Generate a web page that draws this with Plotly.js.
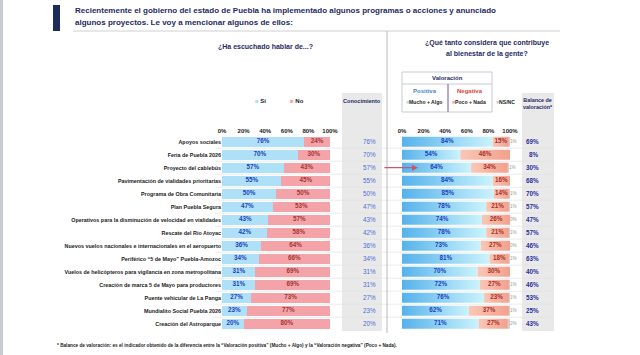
<!DOCTYPE html>
<html><head><meta charset="utf-8">
<script src="https://cdn.plot.ly/plotly-3.0.1.min.js"></script>
<style>html,body{margin:0;padding:0;background:#fff;}#chart{width:640px;height:355px;}</style>
</head><body><div id="chart"></div>
<script>
const programas = [
  'Apoyos sociales',
  'Feria de Puebla 2026',
  'Proyecto del cablebús',
  'Pavimentación de vialidades prioritarias',
  'Programa de Obra Comunitaria',
  'Plan Puebla Segura',
  'Operativos para la disminución de velocidad en vialidades',
  'Rescate del Río Atoyac',
  'Nuevos vuelos nacionales e internacionales en el aeropuerto',
  'Periférico “5 de Mayo” Puebla-Amozoc',
  'Vuelos de helicópteros para vigilancia en zona metropolitana',
  'Creación de marca 5 de Mayo para productores',
  'Puente vehicular de La Panga',
  'Mundialito Social Puebla 2026',
  'Creación del Astroparque'
];
const si       = [76,70,57,55,50,47,43,42,36,34,31,31,27,23,20];
const no       = [24,30,43,45,50,53,57,58,64,66,69,69,73,77,80];
const conocimiento = [76,70,57,55,50,47,43,42,36,34,31,31,27,23,20];
const positiva = [84,54,64,84,85,78,74,78,73,81,70,72,76,62,71];
const negativa = [15,46,34,16,14,21,26,21,27,18,30,27,23,37,27];
const nsnc     = [1,1,1,1,1,1,0,1,0,1,1,1,1,1,2];
const balance  = [69,8,30,68,70,57,47,57,46,63,40,46,53,25,43];
const tickVals = [0,20,40,60,80,100];
const tickLabels = ['0%','20%','40%','60%','80%','100%'];

const NARROW = 'Liberation Sans Narrow, Arial Narrow, Liberation Sans, Arial, sans-serif';
const SANS = 'Liberation Sans, Arial, sans-serif';
const NAVY = '#1f2b63';
const rows = programas.map((_, i) => i);
const H = 0.38;
const X = v => v / 640, Y = v => 1 - v / 355;
const yDom = [Y(330.2), Y(135.2)];
const yRange = [14.5, -0.5];

const traces = [];
traces.push({type:'bar', orientation:'h', x:si, y:rows, xaxis:'x', yaxis:'y',
  marker:{color:'#aee0f7'}, hoverinfo:'skip'});
traces.push({type:'bar', orientation:'h', x:no, y:rows, xaxis:'x', yaxis:'y',
  marker:{color:'#f4a4a8'}, hoverinfo:'skip'});
traces.push({type:'scatter', mode:'text', xaxis:'x', yaxis:'y', x:si.map(v=>v/2), y:rows,
  text:si.map(v=>'<b>'+v+'%</b>'), textfont:{family:SANS,size:6.3,color:'#1d3fc0'}, hoverinfo:'skip', cliponaxis:false});
traces.push({type:'scatter', mode:'text', xaxis:'x', yaxis:'y', x:si.map((s,i)=>s+no[i]/2), y:rows,
  text:no.map(v=>'<b>'+v+'%</b>'), textfont:{family:SANS,size:6.3,color:'#a43434'}, hoverinfo:'skip', cliponaxis:false});

rows.forEach(i => {
  const p = positiva[i], n = negativa[i], s = nsnc[i];
  traces.push({type:'scatter', xaxis:'x2', yaxis:'y2', mode:'none', fill:'toself',
    x:[0,p,p,0], y:[i-H,i-H,i+H,i+H],
    fillgradient:{type:'horizontal', colorscale:[[0,'#55b2ec'],[1,'#cbf3fc']]}, hoverinfo:'skip'});
  traces.push({type:'scatter', xaxis:'x2', yaxis:'y2', mode:'none', fill:'toself',
    x:[p,p+n,p+n,p], y:[i-H,i-H,i+H,i+H],
    fillgradient:{type:'horizontal', colorscale:[[0,'#f9c7b6'],[1,'#f3a08c']]}, hoverinfo:'skip'});
  if (s > 0) traces.push({type:'scatter', xaxis:'x2', yaxis:'y2', mode:'none', fill:'toself',
    x:[p+n,p+n+s,p+n+s,p+n], y:[i-H,i-H,i+H,i+H], fillcolor:'#cfcfcf', hoverinfo:'skip'});
});
traces.push({type:'scatter', mode:'text', xaxis:'x2', yaxis:'y2', x:positiva.map(v=>v/2), y:rows,
  text:positiva.map(v=>'<b>'+v+'%</b>'), textfont:{family:SANS,size:6.3,color:'#1d3fc0'}, hoverinfo:'skip', cliponaxis:false});
traces.push({type:'scatter', mode:'text', xaxis:'x2', yaxis:'y2', x:positiva.map((p,i)=>p+negativa[i]/2), y:rows,
  text:negativa.map(v=>'<b>'+v+'%</b>'), textfont:{family:SANS,size:6.3,color:'#a8302a'}, hoverinfo:'skip', cliponaxis:false});
traces.push({type:'scatter', mode:'text', xaxis:'x2', yaxis:'y2', x:positiva.map((p,i)=>p+negativa[i]+nsnc[i]), y:rows,
  text:nsnc.map(v=>v+'%'), textposition:'middle right', textfont:{family:SANS,size:4.6,color:'#999'}, hoverinfo:'skip', cliponaxis:false});

function txt(x, y, text, o) {
  o = o || {};
  return {xref:'paper', yref:'paper', x:X(x), y:Y(y), text:text, showarrow:false,
    xanchor:o.xanchor||'center', yanchor:'middle', align:o.align||'center',
    font:{family:o.family||SANS, size:o.size||6, color:o.color||'#222'}};
}
const ann = [];
ann.push(txt(73, 10.5, '<b>Recientemente el gobierno del estado de Puebla ha implementado algunos programas o acciones y anunciado</b>', {xanchor:'left', size:8, color:NAVY}));
ann.push(txt(73, 22.5, '<b>algunos proyectos. Le voy a mencionar algunos de ellos:</b>', {xanchor:'left', size:8, color:NAVY}));
ann.push(txt(265, 46, '<b>¿Ha escuchado hablar de...?</b>', {size:7, color:NAVY}));
ann.push(txt(487, 43, '<b>¿Qué tanto considera que contribuye</b>', {size:7, color:NAVY}));
ann.push(txt(487, 54, '<b>al bienestar de la gente?</b>', {size:7, color:NAVY}));
// left legend
ann.push(txt(253, 101, '<span style="color:#aee0f7">■</span> <b>Sí</b>', {xanchor:'left', size:6}));
ann.push(txt(288, 101, '<span style="color:#f4a4a8">■</span> <b>No</b>', {xanchor:'left', size:6}));
ann.push(txt(362, 101, '<b>Conocimiento</b>', {size:5.6, color:NAVY}));
// right legend box
ann.push(txt(447, 78, '<b>Valoración</b>', {size:6, color:NAVY}));
ann.push(txt(425, 91, '<b>Positiva</b>', {size:6, color:'#4a7fd6'}));
ann.push(txt(470, 91, '<b>Negativa</b>', {size:6, color:'#e2433c'}));
ann.push(txt(404, 101.5, '<span style="color:#aee0f7">■</span><b>Mucho + Algo</b>', {xanchor:'left', size:5.1}));
ann.push(txt(450, 101.5, '<span style="color:#f4a4a8">■</span><b>Poco + Nada</b>', {xanchor:'left', size:5.1}));
ann.push(txt(494, 101.5, '<span style="color:#cfcfcf">■</span><b>NS/NC</b>', {xanchor:'left', size:5.1}));
ann.push(txt(538, 103, '<b>Balance de<br>valoración*</b>', {size:5.4, color:NAVY}));
// column values
rows.forEach(i => {
  ann.push({xref:'paper', yref:'y', x:X(369), y:i, text:conocimiento[i]+'%', showarrow:false,
    font:{family:SANS, size:6.3, color:'#4a6fd6'}});
  ann.push({xref:'paper', yref:'y', x:X(541), y:i, text:'<b>'+balance[i]+'%</b>', showarrow:false,
    font:{family:SANS, size:6.3, color:'#2b2e9e'}});
});
// arrow
ann.push({xref:'paper', yref:'y', x:X(418), y:2, ax:-35, ay:0, text:'', showarrow:true,
  arrowhead:2, arrowsize:1, arrowwidth:1.2, arrowcolor:'#c9566c'});
ann.push(txt(55, 345, '<b>* Balance de valoración: es el indicador obtenido de la diferencia entre la “Valoración positiva” (Mucho + Algo) y la “Valoración negativa” (Poco + Nada).</b>', {xanchor:'left', size:4.7}));

const shapes = [];
shapes.push({type:'rect', xref:'paper', yref:'paper', x0:0, x1:X(3), y0:0, y1:1, fillcolor:'#c9cdd2', line:{width:0}, layer:'below'});
shapes.push({type:'rect', xref:'paper', yref:'paper', x0:X(53), x1:X(60), y0:Y(31), y1:Y(5), fillcolor:'#1c2a5e', line:{width:0}});
shapes.push({type:'line', xref:'paper', yref:'paper', x0:X(73), x1:X(560), y0:Y(31), y1:Y(31), line:{color:'#cfcfcf', width:1}});
shapes.push({type:'line', xref:'paper', yref:'paper', x0:X(387), x1:X(387), y0:Y(31), y1:Y(333), line:{color:'#b9b9b9', width:1}});
shapes.push({type:'rect', xref:'paper', yref:'paper', x0:X(342), x1:X(382), y0:Y(331), y1:Y(93), fillcolor:'#e9e9e9', line:{width:0}, layer:'below'});
shapes.push({type:'rect', xref:'paper', yref:'paper', x0:X(522), x1:X(554), y0:Y(331), y1:Y(93), fillcolor:'#e9e9e9', line:{width:0}, layer:'below'});
for (let i = 0; i < rows.length - 1; i++) {
  shapes.push({type:'line', xref:'paper', yref:'y', x0:X(215), x1:X(554), y0:i+0.5, y1:i+0.5, line:{color:'#e0e0e0', width:0.6}, layer:'below'});
}
// legend box
shapes.push({type:'rect', xref:'paper', yref:'paper', x0:X(402), x1:X(492), y0:Y(112), y1:Y(72), line:{color:'#c9c9d6', width:1}});
shapes.push({type:'line', xref:'paper', yref:'paper', x0:X(402), x1:X(492), y0:Y(84), y1:Y(84), line:{color:'#c9c9d6', width:1}});
shapes.push({type:'line', xref:'paper', yref:'paper', x0:X(448), x1:X(448), y0:Y(84), y1:Y(112), line:{color:'#9b8cc0', width:1.5}});

const axX = {range:[0,100], side:'top', tickvals:tickVals, ticktext:tickLabels, showgrid:false,
  zeroline:false, showline:false, ticks:'', fixedrange:true,
  tickfont:{family:SANS, size:6, color:'#222', weight:'bold'}};
const layout = {
  width:640, height:355, margin:{l:0,r:0,t:0,b:0}, paper_bgcolor:'#fff', plot_bgcolor:'rgba(0,0,0,0)',
  showlegend:false, barmode:'stack', bargap:0.24, hovermode:false,
  xaxis:Object.assign({}, axX, {domain:[X(222), X(330)], anchor:'y'}),
  yaxis:{domain:yDom, range:yRange, tickvals:rows, ticktext:programas, showgrid:false, zeroline:false,
    ticks:'', anchor:'x', fixedrange:true, tickfont:{family:SANS, size:5.4, color:'#222', weight:'bold'}},
  xaxis2:Object.assign({}, axX, {domain:[X(402), X(510)], anchor:'y2'}),
  yaxis2:{domain:yDom, range:yRange, showticklabels:false, showgrid:false, zeroline:false, anchor:'x2', fixedrange:true},
  shapes:shapes, annotations:ann
};
Plotly.newPlot('chart', traces, layout, {staticPlot:true, displayModeBar:false});
</script></body></html>
